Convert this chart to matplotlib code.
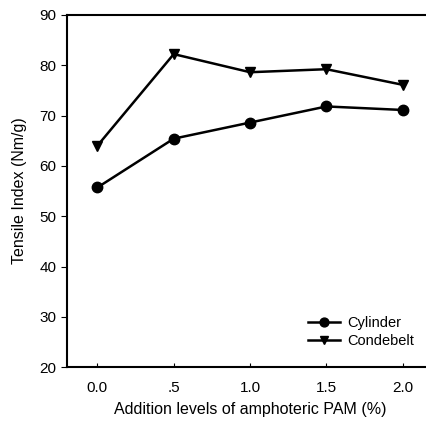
import matplotlib
matplotlib.use("Agg")
import matplotlib.pyplot as plt

plt.rcParams['font.family'] = ['Liberation Sans', 'DejaVu Sans']

pam = [0.0, 0.5, 1.0, 1.5, 2.0]
tick_labels = ['0.0', '.5', '1.0', '1.5', '2.0']
cylinder = [55.7, 65.4, 68.6, 71.8, 71.1]
condebelt = [64.0, 82.2, 78.6, 79.2, 76.1]

fig = plt.figure(figsize=(4.26, 4.24), dpi=100)
ax = fig.add_axes([0.157, 0.134, 0.86, 0.831])

ax.plot(pam, cylinder, color='black', marker='o', markersize=7.5, lw=1.8, label='Cylinder')
ax.plot(pam, condebelt, color='black', marker='v', markersize=7.5, lw=1.8, label='Condebelt')

ax.set_xlim(-0.2, 2.2)
ax.set_ylim(20, 90)
ax.set_xticks(pam)
ax.set_xticklabels(tick_labels)
ax.set_yticks(range(20, 91, 10))
ax.tick_params(axis='x', direction='in', length=3, labelsize=11, pad=10)
ax.tick_params(axis='y', direction='out', length=4, labelsize=11)
for s in ['left', 'bottom', 'top']:
    ax.spines[s].set_linewidth(1.5)
ax.spines['right'].set_visible(False)

ax.set_xlabel('Addition levels of amphoteric PAM (%)', fontsize=11.5, labelpad=5)
ax.set_ylabel('Tensile Index (Nm/g)', fontsize=11.5, labelpad=9)

ax.legend(loc='lower right', bbox_to_anchor=(0.985, 0.017), frameon=False, fontsize=10.5,
          handlelength=2.2, handletextpad=0.5, labelspacing=0.25, markerscale=0.85)

fig.savefig('out.png', dpi=100)
